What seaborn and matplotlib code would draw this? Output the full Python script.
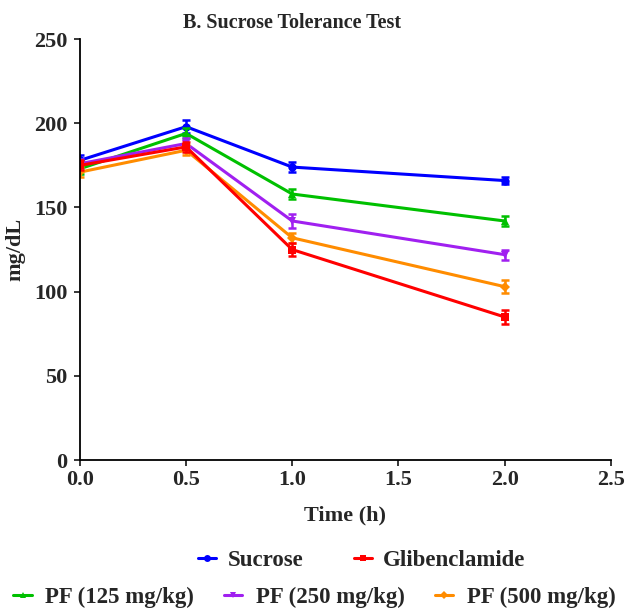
import matplotlib
matplotlib.use("Agg")
import matplotlib.pyplot as plt
import seaborn as sns
import pandas as pd
import numpy as np
from matplotlib.lines import Line2D

time = [0.0, 0.5, 1.0, 2.0]
groups = ["Sucrose", "Glibenclamide", "PF (125 mg/kg)", "PF (250 mg/kg)", "PF (500 mg/kg)"]
sucrose = [178, 198, 174, 166]
glib = [175, 186, 125, 85]
pf125 = [173, 194, 158, 142]
pf250 = [176, 188, 142, 122]
pf500 = [171, 184, 132, 103]
sucrose_err = [3, 4, 3, 2]
glib_err = [3, 3, 4, 4]
pf125_err = [3, 3, 3, 3]
pf250_err = [3, 3, 4, 3]
pf500_err = [3, 3, 3, 4]

values = [sucrose, glib, pf125, pf250, pf500]
errs = [sucrose_err, glib_err, pf125_err, pf250_err, pf500_err]
colors = ["#0000ff", "#ff0000", "#00c000", "#a020f0", "#ff8c00"]
markers = ["o", "s", "^", "v", "D"]
msizes = [6, 6, 6, 6, 5]

rows = []
for g, v in zip(groups, values):
    for t, y in zip(time, v):
        rows.append({"time": t, "value": y, "group": g})
df = pd.DataFrame(rows)

sns.set_style("ticks")
plt.rcParams['font.family'] = ['Liberation Serif', 'DejaVu Serif']
plt.rcParams['font.weight'] = 'bold'

fig = plt.figure(figsize=(6.29, 6.11), dpi=100)
ax = fig.add_axes([0.127, 0.247, 0.844, 0.689])

order = [0, 2, 3, 4, 1]
for i in order:
    sub = df[df.group == groups[i]]
    sns.lineplot(data=sub, x="time", y="value", ax=ax, color=colors[i], marker=markers[i],
                 markersize=msizes[i], markeredgewidth=0, linewidth=2.2, legend=False)
    ax.errorbar(time, values[i], yerr=errs[i], fmt="none", ecolor=colors[i],
                elinewidth=1.8, capsize=3, capthick=1.8)

ax.set_xlim(0, 2.5)
ax.set_ylim(0, 250)
ax.set_xticks([0.0, 0.5, 1.0, 1.5, 2.0, 2.5])
ax.set_xticklabels(["0.0", "0.5", "1.0", "1.5", "2.0", "2.5"])
ax.set_yticks([0, 50, 100, 150, 200, 250])
ax.tick_params(labelsize=16, width=1.3, length=4, direction="out")
ax.tick_params(axis="x", pad=3)
ax.tick_params(axis="y", pad=5)
for lab in ax.get_xticklabels() + ax.get_yticklabels():
    lab.set_fontweight("bold")
sns.despine(ax=ax)
for s in ["left", "bottom"]:
    ax.spines[s].set_linewidth(1.3)
    ax.spines[s].set_color("black")
ax.set_xlabel("Time (h)", fontsize=16, fontweight="bold", labelpad=11)
ax.set_ylabel("mg/dL", fontsize=16, fontweight="bold", labelpad=6)
ax.set_title("B. Sucrose Tolerance Test", fontsize=14.5, fontweight="bold", x=0.40, pad=8)

def handle(i):
    return Line2D([0], [0], color=colors[i], marker=markers[i], markersize=msizes[i] - 1,
                  markeredgewidth=0, linewidth=2.2)

leg1 = fig.legend([handle(0), handle(1)], groups[:2], loc="center", bbox_to_anchor=(0.575, 0.083),
                  ncol=2, frameon=False, prop={"size": 16.5, "weight": "bold"},
                  handlelength=0.8, columnspacing=2.2, handletextpad=0.5)
leg2 = fig.legend([handle(2), handle(3), handle(4)], groups[2:], loc="center", bbox_to_anchor=(0.5, 0.022),
                  ncol=3, frameon=False, prop={"size": 16.5, "weight": "bold"},
                  handlelength=0.8, columnspacing=1.3, handletextpad=0.6)

fig.savefig("out.png", dpi=100)
